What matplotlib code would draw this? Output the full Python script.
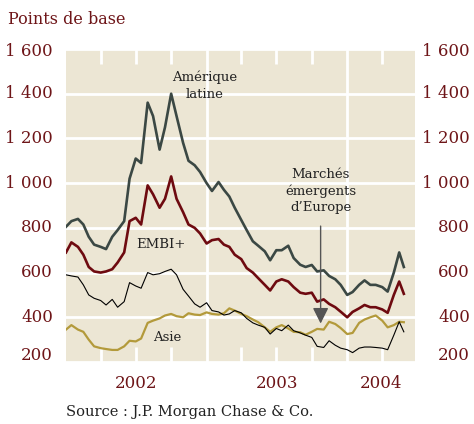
"""Spreads des marchés émergents (points de base), 2002-2004."""

import matplotlib
matplotlib.use("Agg")
import matplotlib.dates as mdates
import matplotlib.pyplot as plt
import pandas as pd

FONT = "DejaVu Serif"
COLOR_BG = "#ece6d4"
COLOR_LABEL = "#6e1518"
COLOR_TEXT = "#222222"

# semi-monthly readings, Jan 2002 -> end of May 2004
DATES = pd.date_range("2002-01-01", "2004-05-15", freq="SMS").append(
    pd.DatetimeIndex(["2004-05-27"]))

LATIN_AMERICA = [805, 830, 840, 815, 760, 725, 715, 705, 760, 790,
                 830, 1020, 1110, 1090, 1360, 1300, 1150, 1250, 1400, 1300,
                 1180, 1100, 1080, 1050, 1000, 965, 1005, 970, 940, 890,
                 835, 790, 740, 720, 695, 655, 700, 700, 720, 665,
                 635, 625, 634, 605, 610, 585, 570, 545, 500, 513,
                 545, 565, 545, 545, 535, 515, 600, 690, 625]
EMBI = [690, 735, 715, 680, 625, 605, 600, 605, 615, 645,
        690, 830, 845, 815, 990, 950, 890, 930, 1030, 930,
        870, 815, 800, 775, 730, 745, 750, 725, 715, 680,
        660, 620, 600, 575, 545, 520, 560, 570, 560, 535,
        510, 505, 510, 470, 480, 460, 445, 425, 400, 424,
        440, 455, 445, 445, 435, 420, 500, 560, 505]
EUROPE = [590, 585, 580, 545, 500, 485, 475, 455, 480, 445,
          470, 555, 540, 530, 600, 590, 595, 605, 615, 590,
          525, 495, 460, 445, 465, 430, 424, 410, 415, 430,
          420, 395, 375, 365, 355, 325, 350, 340, 365, 340,
          330, 320, 310, 270, 265, 295, 275, 262, 255, 242,
          262, 267, 267, 265, 262, 255, 320, 380, 335]
ASIA = [345, 365, 345, 335, 300, 270, 262, 258, 254, 254,
        270, 295, 292, 305, 375, 385, 395, 408, 415, 405,
        400, 418, 412, 410, 422, 415, 412, 418, 440, 430,
        415, 405, 390, 378, 355, 335, 355, 365, 350, 335,
        333, 322, 335, 348, 345, 380, 370, 352, 325, 330,
        375, 390, 400, 408, 385, 355, 365, 380, 378]

Y_TICKS = [200, 400, 600, 800, 1000, 1200, 1400, 1600]
Y_LABELS = ["200", "400", "600", "800", "1 000", "1 200", "1 400", "1 600"]
YEARS = ["2002", "2003", "2004"]


def main():
    fig = plt.figure(figsize=(4.74, 4.24), dpi=100, facecolor="white")
    ax = fig.add_axes([66 / 474, 1 - 362 / 424, 349 / 474, 313 / 424])
    ax.set_facecolor(COLOR_BG)
    for spine in ax.spines.values():
        spine.set_visible(False)

    ax.plot(DATES, LATIN_AMERICA, color="#3b4844", lw=1.9, zorder=3)
    ax.plot(DATES, EMBI, color="#6e0a10", lw=1.9, zorder=3)
    ax.plot(DATES, ASIA, color="#b39a3b", lw=1.6, zorder=3)
    ax.plot(DATES, EUROPE, color="black", lw=0.8, zorder=4)

    x0 = pd.Timestamp("2002-01-01")
    x1 = pd.Timestamp("2004-06-25")
    ax.set_xlim(x0, x1)
    ax.set_ylim(200, 1600)

    # white grid: horizontal every 200, full lines at year starts, short quarter ticks
    ax.set_axisbelow(True)
    ax.set_yticks(Y_TICKS)
    ax.grid(axis="y", color="white", lw=2)
    year_starts = [pd.Timestamp(f"{y}-01-01") for y in (2003, 2004)]
    for ys in year_starts:
        ax.axvline(ys, color="white", lw=2, zorder=1)
    ax.xaxis.set_major_locator(mdates.MonthLocator(bymonth=[4, 7, 10]))
    ax.tick_params(axis="x", which="major", direction="in", length=11, width=2,
                   color="white", top=True, bottom=True, labelbottom=False)
    ax.tick_params(axis="y", length=0, labelleft=False)

    # y labels on both sides
    trans = ax.get_yaxis_transform()
    for val, lab in zip(Y_TICKS, Y_LABELS):
        y = val
        if val == 200:
            y = 230
        elif val == 1600:
            y = 1587
        ax.text(-13 / 349, y, lab, transform=trans, ha="right", va="center",
                color=COLOR_LABEL, fontsize=12, family=FONT, clip_on=False)
        ax.text(1 + 55 / 349, y, lab, transform=trans, ha="right", va="center",
                color=COLOR_LABEL, fontsize=12, family=FONT, clip_on=False)

    # year labels centred on the visible part of each year
    xtrans = ax.get_xaxis_transform()
    bounds = [x0, year_starts[0], year_starts[1], x1]
    for i, year in enumerate(YEARS):
        mid = bounds[i] + (bounds[i + 1] - bounds[i]) / 2
        ax.text(mid, -22 / 313, year, transform=xtrans, ha="center", va="center",
                color=COLOR_LABEL, fontsize=12, family=FONT, clip_on=False)

    # series labels
    ax.text(pd.Timestamp("2002-12-27"), 1435, "Amérique\nlatine", ha="center",
            va="center", fontsize=9.5, family=FONT, color=COLOR_TEXT, linespacing=1.35)
    ax.text(pd.Timestamp("2002-09-05"), 727, "EMBI+", ha="center", va="center",
            fontsize=9.5, family=FONT, color=COLOR_TEXT)
    ax.text(pd.Timestamp("2002-09-20"), 310, "Asie", ha="center", va="center",
            fontsize=9.5, family=FONT, color=COLOR_TEXT)
    arrow_x = pd.Timestamp("2003-10-24")
    ax.text(arrow_x, 965, "Marchés\némergents\nd\u2019Europe", ha="center", va="center",
            fontsize=9.5, family=FONT, color=COLOR_TEXT, linespacing=1.3)
    ax.annotate("", xy=(arrow_x, 372), xytext=(arrow_x, 808),
                arrowprops=dict(arrowstyle="-|>,head_length=0.8,head_width=0.4",
                                color="#555555", lw=1, shrinkA=0, shrinkB=0,
                                mutation_scale=12, facecolor="black"), zorder=5)

    fig.text(8 / 474, 1 - 19 / 424, "Points de base", ha="left", va="center",
             color=COLOR_LABEL, fontsize=11.5, family=FONT)
    fig.text(66 / 474, 1 - 412 / 424, "Source : J.P. Morgan Chase & Co.", ha="left",
             va="center", color=COLOR_TEXT, fontsize=10.5, family=FONT)

    fig.savefig("out.png", dpi=100, facecolor="white")
    plt.close(fig)


if __name__ == "__main__":
    main()
